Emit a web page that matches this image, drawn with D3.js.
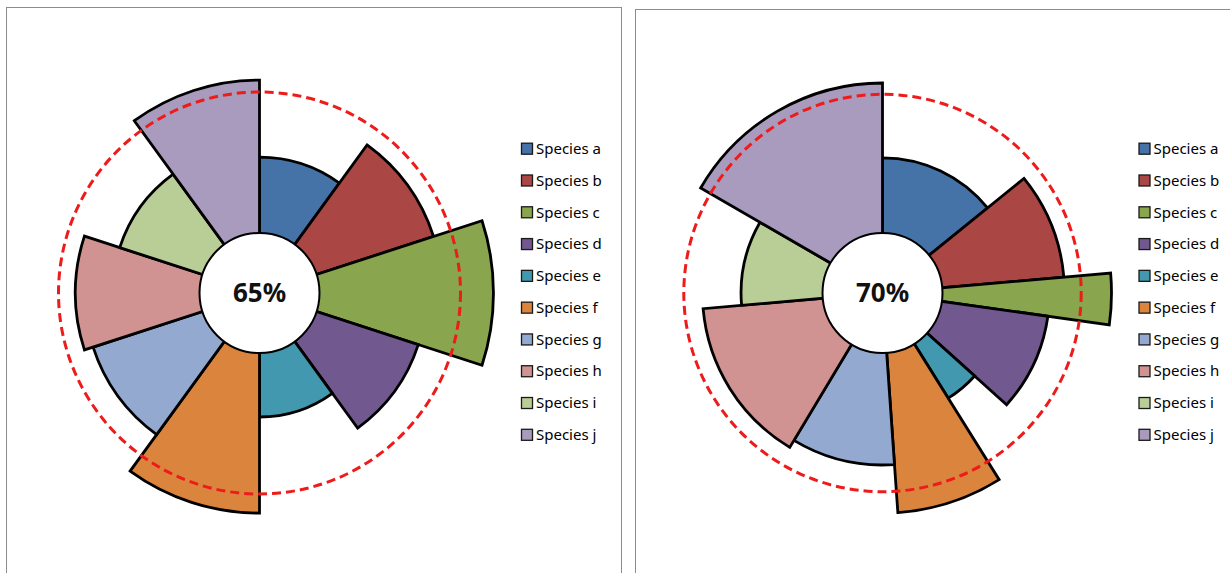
<!DOCTYPE html>
<html>
<head>
<meta charset="utf-8">
<script src="https://cdn.jsdelivr.net/npm/d3@7"></script>
<style>
  body { margin: 0; background: #fff; }
  svg { display: block; }
</style>
</head>
<body>
<div id="chart"></div>
<script>
// data
const species = ["Species a", "Species b", "Species c", "Species d", "Species e",
                 "Species f", "Species g", "Species h", "Species i", "Species j"];
const colors = ["#4572A7", "#AA4643", "#89A54E", "#71588F", "#4198AF",
                "#DB843D", "#93A9CF", "#D19392", "#B9CD96", "#A99BBD"];

// left chart: equal slices
const leftValues = [35.0, 56.7, 80.2, 49.3, 29.5, 73.8, 53.0, 57.2, 40.1, 70.5];
const leftShares = [1, 1, 1, 1, 1, 1, 1, 1, 1, 1];
const leftThreshold = 65;

// right chart: slices of different width
const rightValues = [37.9, 61.6, 85.3, 54.0, 32.3, 80.8, 56.5, 60.6, 41.1, 75.7];
const rightShares = [51, 34, 13, 34, 16, 28, 35, 54, 35, 60];
const rightThreshold = 70;

const width = 1230, height = 573;
const innerR = 60;

const svg = d3.select("#chart").append("svg")
    .attr("width", width)
    .attr("height", height);

function drawPanel({values, shares, threshold, frame, cx, cy, dashR, legendX}) {
    // panel frame
    svg.append("rect")
        .attr("x", frame.x).attr("y", frame.y)
        .attr("width", frame.w).attr("height", frame.h)
        .attr("fill", "#fff")
        .attr("stroke", "#8c8c8c")
        .attr("stroke-width", 1);

    const rows = species.map((s, i) => ({name: s, color: colors[i], value: values[i], share: shares[i]}));

    // radius scale: threshold sits on the dashed ring
    const r = d3.scaleLinear().domain([0, threshold]).range([innerR, dashR]);

    const pie = d3.pie().sort(null).value(d => d.share);
    const arc = d3.arc().innerRadius(0).outerRadius(d => r(d.data.value));

    const g = svg.append("g").attr("transform", `translate(${cx},${cy})`);

    g.selectAll("path.slice")
        .data(pie(rows))
        .join("path")
        .attr("class", "slice")
        .attr("d", arc)
        .attr("fill", d => d.data.color)
        .attr("stroke", "#000")
        .attr("stroke-width", 2.8)
        .attr("stroke-linejoin", "miter");

    g.append("circle")
        .attr("r", innerR)
        .attr("fill", "#fff")
        .attr("stroke", "#000")
        .attr("stroke-width", 2);

    g.append("circle")
        .attr("r", r(threshold))
        .attr("fill", "none")
        .attr("stroke", "#ee1b1b")
        .attr("stroke-width", 3)
        .attr("stroke-dasharray", "9,5");

    g.append("text")
        .attr("text-anchor", "middle")
        .attr("dy", "0.36em")
        .attr("font-family", "'Noto Sans', sans-serif")
        .attr("font-weight", "bold")
        .attr("font-size", 26)
        .attr("fill", "#111")
        .text(threshold + "%");

    // legend
    const rowY = d3.scalePoint().domain(species).range([148.7, 434.8]);
    const leg = svg.append("g")
        .selectAll("g")
        .data(rows)
        .join("g")
        .attr("transform", d => `translate(${legendX},${rowY(d.name)})`);
    leg.append("rect")
        .attr("x", 0).attr("y", -5.5)
        .attr("width", 11).attr("height", 11)
        .attr("fill", d => d.color)
        .attr("stroke", "#1a1a1a")
        .attr("stroke-width", 1.3);
    leg.append("text")
        .attr("x", 14.5)
        .attr("dy", "0.35em")
        .attr("font-family", "'Noto Sans', sans-serif")
        .attr("font-size", 15)
        .attr("fill", "#000")
        .text(d => d.name);
}

drawPanel({
    values: leftValues, shares: leftShares, threshold: leftThreshold,
    frame: {x: 6.5, y: 7.5, w: 615, h: 620},
    cx: 259.5, cy: 293, dashR: 201, legendX: 521.5
});

drawPanel({
    values: rightValues, shares: rightShares, threshold: rightThreshold,
    frame: {x: 635.5, y: 9.5, w: 620, h: 620},
    cx: 882.5, cy: 293, dashR: 198.7, legendX: 1139
});
</script>
</body>
</html>
